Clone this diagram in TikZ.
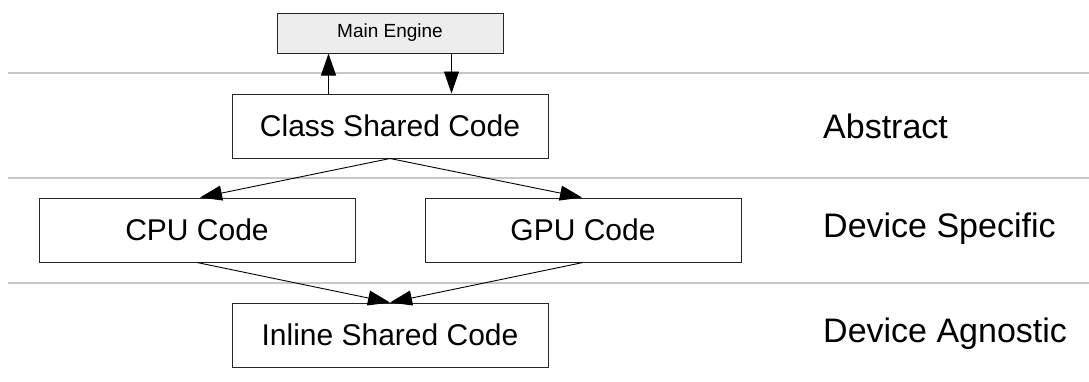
\documentclass[tikz,border=0pt]{standalone}
\usepackage{fontspec}
\setmainfont{Liberation Sans}
\usetikzlibrary{arrows.meta,calc}
\begin{document}
\begin{tikzpicture}[x=1pt,y=-1pt,
  box/.style={draw=black!85,line width=1pt,fill=white,minimum width=316pt,minimum height=64pt,inner sep=0pt,font=\fontsize{30}{36}\selectfont},
  mebox/.style={draw=black!85,line width=1pt,fill=black!7,minimum width=226pt,minimum height=40pt,inner sep=0pt,font=\fontsize{19}{23}\selectfont},
  lbl/.style={anchor=west,inner sep=0pt,font=\fontsize{34}{40}\selectfont},
  sep/.style={draw=black!22,line width=1.5pt},
  arr/.style={draw=black,line width=0.9pt,-{Triangle[length=22pt,width=15pt]}}]
\useasboundingbox (0,0) rectangle (1089,381);
\draw[sep] (8,73) -- (1089,73);
\draw[sep] (8,178) -- (1089,178);
\draw[sep] (8,283) -- (1089,283);
\node[mebox] (me) at (390,33) {Main Engine};
\node[box] (cls) at (390,126) {Class Shared Code};
\node[box] (cpu) at (197,230) {CPU Code};
\node[box] (gpu) at (583,230) {GPU Code};
\node[box] (inl) at (390,335) {Inline Shared Code};
\node[lbl] (l1) at (823,126) {Abstract};
\node[lbl] (l2) at (823,229) {Device Specific};
\node[lbl] (l3) at (823,334) {Device Agnostic};
\draw[arr] ($(cls.north west)+(97,0)$) -- ($(me.south west)+(52,0)$);
\draw[arr] ($(me.south west)+(175,0)$) -- ($(cls.north west)+(220,0)$);
\draw[arr] (cls.south) -- ($(cpu.north)+(3,0)$);
\draw[arr] (cls.south) -- ($(gpu.north)+(-1,0)$);
\draw[arr] (cpu.south) -- (inl.north);
\draw[arr] (gpu.south) -- (inl.north);
\end{tikzpicture}
\end{document}
